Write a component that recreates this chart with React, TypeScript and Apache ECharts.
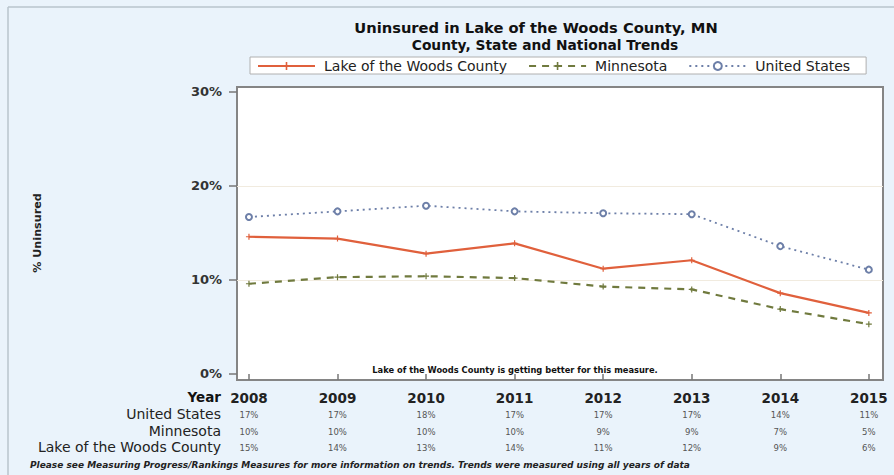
import React, { useEffect, useRef } from "react";
import * as echarts from "echarts";

const years = [2008, 2009, 2010, 2011, 2012, 2013, 2014, 2015];
const lakeValues = [14.6, 14.4, 12.8, 13.9, 11.2, 12.1, 8.6, 6.5];
const mnValues = [9.6, 10.3, 10.4, 10.2, 9.3, 9.0, 6.9, 5.3];
const usValues = [16.7, 17.3, 17.9, 17.3, 17.1, 17.0, 13.6, 11.1];
const usLabels = ["17%", "17%", "18%", "17%", "17%", "17%", "14%", "11%"];
const mnLabels = ["10%", "10%", "10%", "10%", "9%", "9%", "7%", "5%"];
const lakeLabels = ["15%", "14%", "13%", "14%", "11%", "12%", "9%", "6%"];
const yTicks = [0, 10, 20, 30];

const FONT = "DejaVu Sans, sans-serif";
const plus = "path://M4,0h2v4h4v2h-4v4h-2v-4h-4v-2h4z";

export default function App() {
  const ref = useRef<HTMLDivElement>(null);
  useEffect(() => {
    document.body.style.margin = "0";
    const chart = echarts.init(ref.current!, null, { renderer: "svg" });
    const pairs = (vals: number[]) => years.map((y, i) => [y, vals[i]]);
    chart.setOption({
      animation: false,
      backgroundColor: "#eaf3fb",
      textStyle: { fontFamily: FONT },
      grid: {
        left: 237,
        right: 11,
        top: 87,
        bottom: 95,
        show: true,
        backgroundColor: "#ffffff",
        borderColor: "#858585",
        borderWidth: 2,
      },
      legend: {
        left: 250,
        top: 57,
        itemWidth: 57,
        itemHeight: 10,
        itemGap: 21,
        padding: [2, 16, 1, 7],
        backgroundColor: "#ffffff",
        borderColor: "#b0b0b0",
        borderWidth: 1,
        borderRadius: 0,
        textStyle: { fontSize: 14, color: "#222", fontFamily: FONT, padding: [0, 0, 0, 4] },
        data: ["Lake of the Woods County", "Minnesota", "United States"],
      },
      xAxis: {
        type: "value",
        min: 2007.865,
        max: 2015.16,
        axisLine: { show: false },
        splitLine: { show: false },
        axisTick: {
          show: true,
          customValues: years,
          length: 6,
          lineStyle: { color: "#777", width: 1.5 },
        },
        axisLabel: {
          customValues: years,
          margin: 9,
          formatter: (v: number) => {
            const i = years.indexOf(Math.round(v));
            return `{y|${Math.round(v)}}\n{v|${usLabels[i]}}\n{v|${mnLabels[i]}}\n{v|${lakeLabels[i]}}`;
          },
          rich: {
            y: { fontSize: 13.5, fontWeight: "bold", color: "#222", lineHeight: 18, fontFamily: FONT },
            v: { fontSize: 8.5, color: "#555", lineHeight: 16.5, fontFamily: FONT },
          },
        },
      },
      yAxis: {
        type: "value",
        min: -0.64,
        max: 30.53,
        axisLine: { show: false },
        splitLine: { show: false },
        axisTick: {
          show: true,
          customValues: yTicks,
          length: 8,
          lineStyle: { color: "#777", width: 1.5 },
        },
        axisLabel: {
          customValues: yTicks,
          margin: 15,
          formatter: (v: number) => `${Math.round(v)}%`,
          fontSize: 13,
          fontWeight: "bold",
          color: "#333",
          fontFamily: FONT,
        },
      },
      series: [
        {
          name: "United States",
          type: "line",
          data: pairs(usValues),
          symbol: "emptyCircle",
          symbolSize: 6,
          itemStyle: { color: "#6d7fa8", borderWidth: 1.2 },
          lineStyle: { color: "#6d7fa8", width: 1.8, type: [2, 4] },
          z: 3,
          markLine: {
            silent: true,
            symbol: "none",
            label: { show: false },
            lineStyle: { color: "#f1ebdf", width: 1, type: "solid" },
            data: [{ yAxis: 10 }, { yAxis: 20 }],
            z: 1,
          },
        },
        {
          name: "Lake of the Woods County",
          type: "line",
          data: pairs(lakeValues),
          symbol: plus,
          symbolSize: 6,
          itemStyle: { color: "#e0603c" },
          lineStyle: { color: "#e0603c", width: 2.2 },
          z: 4,
        },
        {
          name: "Minnesota",
          type: "line",
          data: pairs(mnValues),
          symbol: plus,
          symbolSize: 6,
          itemStyle: { color: "#707a3e" },
          lineStyle: { color: "#707a3e", width: 2.2, type: [7, 6] },
          z: 3,
        },
      ],
      graphic: [
        { type: "line", shape: { x1: 8, y1: 7, x2: 8, y2: 475 }, style: { stroke: "#b8c4cc", lineWidth: 1.5 } },
        { type: "line", shape: { x1: 8, y1: 7, x2: 894, y2: 7 }, style: { stroke: "#b8c4cc", lineWidth: 1.5 } },
        {
          type: "text",
          x: 536,
          y: 27,
          style: {
            text: "Uninsured in Lake of the Woods County, MN",
            font: `bold 14.7px ${FONT}`,
            fill: "#111",
            textAlign: "center",
            textVerticalAlign: "middle",
          },
        },
        {
          type: "text",
          x: 545,
          y: 45,
          style: {
            text: "County, State and National Trends",
            font: `bold 13.8px ${FONT}`,
            fill: "#111",
            textAlign: "center",
            textVerticalAlign: "middle",
          },
        },
        {
          type: "text",
          x: 37,
          y: 233,
          rotation: Math.PI / 2,
          style: {
            text: "% Uninsured",
            font: `bold 11.2px ${FONT}`,
            fill: "#222",
            textAlign: "center",
            textVerticalAlign: "middle",
          },
        },
        {
          type: "text",
          x: 515,
          y: 370,
          z: 10,
          style: {
            text: "Lake of the Woods County is getting better for this measure.",
            font: `bold 8.3px ${FONT}`,
            fill: "#111",
            textAlign: "center",
            textVerticalAlign: "middle",
          },
        },
        { type: "text", x: 221, y: 397, style: { text: "Year", font: `bold 13.5px ${FONT}`, fill: "#111", textAlign: "right", textVerticalAlign: "middle" } },
        { type: "text", x: 221, y: 414, style: { text: "United States", font: `14px ${FONT}`, fill: "#222", textAlign: "right", textVerticalAlign: "middle" } },
        { type: "text", x: 221, y: 431, style: { text: "Minnesota", font: `14px ${FONT}`, fill: "#222", textAlign: "right", textVerticalAlign: "middle" } },
        { type: "text", x: 221, y: 447, style: { text: "Lake of the Woods County", font: `14px ${FONT}`, fill: "#222", textAlign: "right", textVerticalAlign: "middle" } },
        {
          type: "text",
          x: 30,
          y: 465,
          style: {
            text: "Please see Measuring Progress/Rankings Measures for more information on trends. Trends were measured using all years of data",
            font: `italic bold 9px ${FONT}`,
            fill: "#222",
            textAlign: "left",
            textVerticalAlign: "middle",
          },
        },
      ],
    });
    return () => chart.dispose();
  }, []);
  return <div ref={ref} style={{ position: "absolute", left: 0, top: 0, width: 894, height: 475 }} />;
}
